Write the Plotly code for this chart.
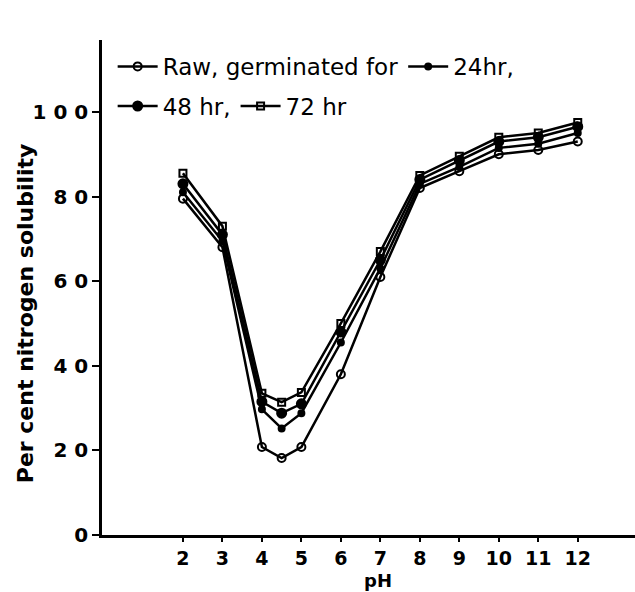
import plotly.graph_objects as go

ph = [2, 3, 4, 4.5, 5, 6, 7, 8, 9, 10, 11, 12]
raw = [79.5, 68, 20.8, 18.2, 20.8, 38, 61, 82, 86, 90, 91, 93]
hr24 = [81, 69.5, 29.7, 25.2, 28.8, 45.5, 63, 83, 87, 91.5, 92.5, 95]
hr48 = [83, 71, 31.5, 28.8, 31, 48, 65, 84, 88.5, 93, 94, 96.5]
hr72 = [85.5, 73, 33.5, 31.4, 33.7, 50, 67, 85, 89.5, 94, 95, 97.5]

x_ticks = [2, 3, 4, 5, 6, 7, 8, 9, 10, 11, 12]
y_ticks = [0, 20, 40, 60, 80, 100]

FONT = "DejaVu Sans"
fig = go.Figure()

series = [
    ("Raw, germinated for", raw, "circle-open", 8, "legend"),
    ("24hr,", hr24, "circle", 6, "legend"),
    ("48 hr,", hr48, "circle", 9, "legend2"),
    ("72 hr", hr72, "square-open", 7, "legend2"),
]
for name, vals, sym, size, lg in series:
    fig.add_trace(go.Scatter(
        x=ph, y=vals, name=name, mode="lines+markers",
        line=dict(color="black", width=2.5),
        marker=dict(symbol=sym, size=size, color="black",
                    line=dict(color="black", width=2)),
        legend=lg,
    ))

leg_common = dict(
    orientation="h", bgcolor="rgba(0,0,0,0)",
    font=dict(family=FONT, size=23, color="black"),
    xanchor="left", yanchor="top", itemwidth=40,
)

fig.update_layout(
    width=635, height=592,
    margin=dict(l=102, r=0, t=40, b=57, autoexpand=False),
    paper_bgcolor="white", plot_bgcolor="white",
    font=dict(family=FONT, color="black"),
    legend=dict(x=0.02, y=0.99, **leg_common),
    legend2=dict(x=0.02, y=0.91, **leg_common),
    xaxis=dict(
        range=[-0.05, 13.45], tickvals=x_ticks, ticktext=[str(v) for v in x_ticks],
        showgrid=False, zeroline=False, showline=True, linecolor="black", linewidth=2.5,
        ticks="outside", ticklen=4, tickwidth=2, tickcolor="black", automargin=False,
        tickfont=dict(family=FONT, size=19, color="black", weight="bold"),
    ),
    yaxis=dict(
        range=[0, 117], tickvals=y_ticks, ticktext=["0", "2 0", "4 0", "6 0", "8 0", "1 0 0"],
        showgrid=False, zeroline=False, showline=True, linecolor="black", linewidth=2.5,
        ticks="outside", ticklen=7, tickwidth=2, tickcolor="black", automargin=False,
        tickfont=dict(family=FONT, size=20, color="black", weight="bold"),
    ),
    annotations=[
        dict(
            text="Per cent nitrogen solubility", textangle=-90,
            xref="paper", yref="paper", x=-0.1445, y=0.448,
            xanchor="center", yanchor="middle", showarrow=False,
            font=dict(family=FONT, size=22, color="black", weight="bold"),
        ),
        dict(
            text="pH", xref="paper", yref="paper", x=0.518, y=-0.092,
            xanchor="center", yanchor="middle", showarrow=False,
            font=dict(family=FONT, size=18, color="black", weight="bold"),
        ),
    ],
)

fig.write_html("out.html")
